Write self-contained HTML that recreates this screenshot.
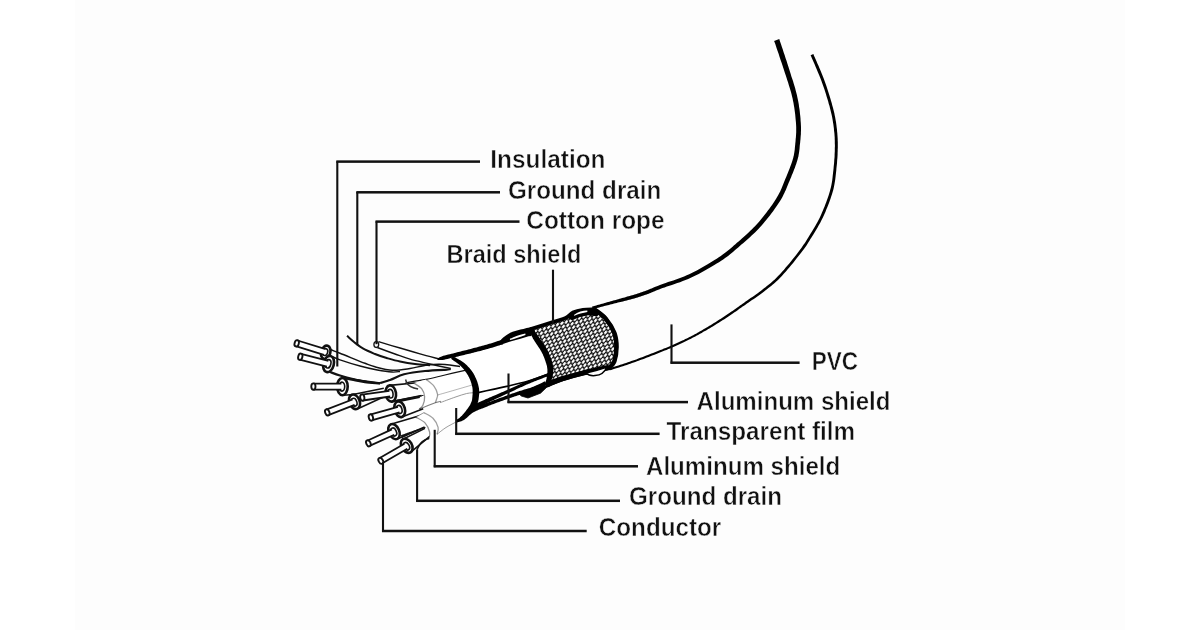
<!DOCTYPE html>
<html><head><meta charset="utf-8"><title>Cable structure</title>
<style>
html,body{margin:0;padding:0;background:#fff;}
body{width:1200px;height:630px;overflow:hidden;position:relative;font-family:"Liberation Sans",sans-serif;}
#bg{position:absolute;left:75px;top:0;width:1050px;height:630px;background:#fdfdfd;}
svg{position:absolute;left:0;top:0;will-change:transform;}
text{font-family:"Liberation Sans",sans-serif;font-weight:bold;font-size:26.6px;fill:#111;stroke:#fdfdfd;stroke-width:0.5px;}
</style></head><body>
<div id="bg"></div>
<svg width="1200" height="630" viewBox="0 0 1200 630">
<defs>
<pattern id="braid" width="4.6" height="7.2" patternUnits="userSpaceOnUse" patternTransform="rotate(-17) skewX(-28)">
<rect width="4.6" height="7.2" fill="#0a0a0a"/>
<path d="M2.3 -0.25 L4.35 1.8 L2.3 3.85 L0.25 1.8Z M0 3.35 L2.05 5.4 L0 7.45 L-2.05 5.4Z M4.6 3.35 L6.65 5.4 L4.6 7.45 L2.55 5.4Z" fill="#fff"/>
</pattern>
</defs>
<g id="wires">
<path d="M376.5 342.0 C382.1 343.6 399.4 348.7 410.0 351.5 C420.6 354.3 433.0 356.2 440.0 359.0 C447.0 361.8 457.0 368.4 452.0 368.5 C447.0 368.6 422.6 363.0 410.0 359.5 C397.4 356.0 382.1 349.5 376.5 347.5Z" fill="#fff" stroke="none"/>
<path d="M378.5 341.7 C382.1 342.8 393.1 346.0 400.0 348.0 C406.9 350.0 413.3 351.9 420.0 353.8 C426.7 355.7 436.7 358.3 440.0 359.2" fill="none" stroke="#111" stroke-width="1.4" />
<path d="M377.3 347.5 C380.2 348.6 389.6 352.1 395.0 354.0 C400.4 355.9 404.2 357.5 410.0 359.2 C415.8 360.9 423.2 362.4 430.0 364.0 C436.8 365.6 447.3 367.8 450.8 368.5" fill="none" stroke="#111" stroke-width="1.4" />
<ellipse cx="376.3" cy="344.6" rx="2.4" ry="2.9" fill="#fff" stroke="#111" stroke-width="1.3"/>
<path d="M347.0 335.8 C348.2 336.8 351.3 339.9 354.0 342.0 C356.7 344.1 359.8 346.7 363.3 348.7 C366.8 350.7 371.1 352.4 375.0 354.0 C378.9 355.6 382.5 356.8 386.7 358.0 C390.9 359.2 395.3 360.5 400.0 361.5 C404.7 362.5 410.0 363.4 415.0 364.0 C420.0 364.6 427.5 365.0 430.0 365.2" fill="none" stroke="#111" stroke-width="2.0" />
<path d="M329.7 349.3 C331.4 350.0 334.1 351.0 340.0 353.3 C345.9 355.6 359.2 361.1 365.0 363.3 C370.8 365.6 370.4 365.6 375.0 366.8 C379.6 368.0 386.7 370.0 392.5 370.3 C398.3 370.6 404.2 369.4 410.0 368.5 C415.8 367.6 421.7 365.7 427.5 365.0 C433.3 364.3 439.6 364.2 445.0 364.5 C450.4 364.8 457.5 366.2 460.0 366.5" fill="none" stroke="#111" stroke-width="1.5" />
<path d="M332.0 356.3 C333.3 356.9 335.3 358.2 340.0 359.8 C344.7 361.4 353.8 364.3 360.0 366.0 C366.2 367.7 372.0 369.0 377.3 370.0 C382.6 371.0 388.2 371.8 392.0 372.0 C395.8 372.2 398.7 371.6 400.0 371.5" fill="none" stroke="#111" stroke-width="1.3" />
<path d="M330.0 372.0 C331.7 372.6 335.8 374.2 340.0 375.5 C344.2 376.8 350.8 378.5 355.0 379.5 C359.2 380.5 361.3 380.8 365.0 381.5 C368.7 382.2 373.1 383.8 377.3 383.5 C381.5 383.2 385.6 381.5 390.0 380.0 C394.4 378.5 398.2 375.8 404.0 374.3 C409.8 372.8 417.2 371.8 425.0 371.0 C432.8 370.2 446.5 369.8 450.8 369.5" fill="none" stroke="#111" stroke-width="2.2" />
<ellipse cx="325.7" cy="352.3" rx="4.6" ry="6.8" transform="rotate(17.2 325.7 352.3)" fill="#fff" stroke="#111" stroke-width="2.6"/>
<ellipse cx="325.2" cy="352.2" rx="2.4" ry="3.5" transform="rotate(17.2 325.7 352.3)" fill="#fff" stroke="#111" stroke-width="1.6"/>
<path d="M295.8 346.1 L323.9 354.8 L325.6 349.2 L297.6 340.5 Z" fill="#fff" stroke="none"/>
<path d="M295.8 346.1 L323.9 354.8 M297.6 340.5 L325.6 349.2" fill="none" stroke="#111" stroke-width="1.8"/>
<ellipse cx="296.7" cy="343.3" rx="2.1" ry="3.2" transform="rotate(17.2 296.7 343.3)" fill="#fff" stroke="#111" stroke-width="1.9"/>
<ellipse cx="328.6" cy="364.0" rx="5.2" ry="8.3" transform="rotate(14.5 328.6 364.0)" fill="#fff" stroke="#111" stroke-width="2.6"/>
<ellipse cx="328.1" cy="363.9" rx="2.7" ry="4.3" transform="rotate(14.5 328.6 364.0)" fill="#fff" stroke="#111" stroke-width="1.6"/>
<path d="M299.6 359.6 L326.9 366.6 L328.4 360.9 L301.0 353.8 Z" fill="#fff" stroke="none"/>
<path d="M299.6 359.6 L326.9 366.6 M301.0 353.8 L328.4 360.9" fill="none" stroke="#111" stroke-width="1.8"/>
<ellipse cx="300.3" cy="356.7" rx="2.1" ry="3.2" transform="rotate(14.5 300.3 356.7)" fill="#fff" stroke="#111" stroke-width="1.9"/>
<path d="M342.4 395.2 L379.8 393.0 L380.2 383.0 L342.4 378.0 Z" fill="#fff" stroke="none"/>
<path d="M342.4 395.2 L379.8 393.0" fill="none" stroke="#111" stroke-width="1.6"/>
<path d="M342.4 378.0 L380.2 383.0" fill="none" stroke="#111" stroke-width="1.6"/>
<ellipse cx="342.4" cy="386.6" rx="5.3" ry="8.6" transform="rotate(0.0 342.4 386.6)" fill="#fff" stroke="#111" stroke-width="2.6"/>
<ellipse cx="341.9" cy="386.6" rx="2.8" ry="4.5" transform="rotate(0.0 342.4 386.6)" fill="#fff" stroke="#111" stroke-width="1.6"/>
<path d="M313.4 389.6 L341.4 389.6 L341.4 383.7 L313.4 383.7 Z" fill="#fff" stroke="none"/>
<path d="M313.4 389.6 L341.4 389.6 M313.4 383.7 L341.4 383.7" fill="none" stroke="#111" stroke-width="1.8"/>
<ellipse cx="313.4" cy="386.6" rx="2.1" ry="3.2" transform="rotate(0.0 313.4 386.6)" fill="#fff" stroke="#111" stroke-width="1.9"/>
<path d="M343.5 377.5 C344.9 377.8 348.4 378.8 352.0 379.5 C355.6 380.2 360.3 381.3 365.0 382.0 C369.7 382.7 377.5 383.2 380.0 383.5" fill="none" stroke="#111" stroke-width="2.4" />
<path d="M357.3 408.9 L386.2 395.8 L383.8 388.2 L351.7 394.7 Z" fill="#fff" stroke="none"/>
<path d="M357.3 408.9 L386.2 395.8" fill="none" stroke="#111" stroke-width="1.6"/>
<path d="M351.7 394.7 L383.8 388.2" fill="none" stroke="#111" stroke-width="1.6"/>
<ellipse cx="354.5" cy="401.8" rx="5.2" ry="7.6" transform="rotate(-21.3 354.5 401.8)" fill="#fff" stroke="#111" stroke-width="2.6"/>
<ellipse cx="354.0" cy="402.0" rx="2.7" ry="4.0" transform="rotate(-21.3 354.5 401.8)" fill="#fff" stroke="#111" stroke-width="1.6"/>
<path d="M328.4 415.1 L354.6 404.9 L352.5 399.5 L326.2 409.7 Z" fill="#fff" stroke="none"/>
<path d="M328.4 415.1 L354.6 404.9 M326.2 409.7 L352.5 399.5" fill="none" stroke="#111" stroke-width="1.8"/>
<ellipse cx="327.3" cy="412.4" rx="2.1" ry="3.2" transform="rotate(-21.3 327.3 412.4)" fill="#fff" stroke="#111" stroke-width="1.9"/>
<path d="M392.0 385.0 C397.5 383.7 415.0 379.5 425.0 377.0 C435.0 374.5 444.5 370.8 452.0 370.0 C459.5 369.2 466.0 368.3 470.0 372.0 C474.0 375.7 481.0 387.0 476.0 392.0 C471.0 397.0 448.0 399.3 440.0 402.0 C432.0 404.7 434.7 405.3 428.0 408.0 C421.3 410.7 404.7 416.3 400.0 418.0Z" fill="#fff" stroke="none"/>
<path d="M405.6 382.9 C407.2 382.6 411.6 381.8 415.0 381.2 C418.4 380.6 421.1 380.4 426.1 379.4 C431.1 378.4 438.5 376.5 445.0 375.0 C451.5 373.5 461.7 371.1 465.0 370.3" fill="none" stroke="#111" stroke-width="1.2" />
<path d="M392.0 401.6 L421.5 395.5 L419.5 382.5 L389.6 385.4 Z" fill="#fff" stroke="none"/>
<path d="M392.0 401.6 L421.5 395.5" fill="none" stroke="#111" stroke-width="1.6"/>
<path d="M389.6 385.4 L419.5 382.5" fill="none" stroke="#111" stroke-width="1.6"/>
<ellipse cx="390.8" cy="393.5" rx="5.2" ry="8.2" transform="rotate(-8.2 390.8 393.5)" fill="#fff" stroke="#111" stroke-width="2.6"/>
<ellipse cx="390.3" cy="393.6" rx="2.7" ry="4.3" transform="rotate(-8.2 390.8 393.5)" fill="#fff" stroke="#111" stroke-width="1.6"/>
<path d="M362.7 400.5 L390.2 396.5 L389.4 390.8 L361.9 394.7 Z" fill="#fff" stroke="none"/>
<path d="M362.7 400.5 L390.2 396.5 M361.9 394.7 L389.4 390.8" fill="none" stroke="#111" stroke-width="1.8"/>
<ellipse cx="362.3" cy="397.6" rx="2.1" ry="3.2" transform="rotate(-8.2 362.3 397.6)" fill="#fff" stroke="#111" stroke-width="1.9"/>
<path d="M401.9 417.0 L423.2 408.8 L419.8 397.2 L397.5 401.6 Z" fill="#fff" stroke="none"/>
<path d="M401.9 417.0 L423.2 408.8" fill="none" stroke="#111" stroke-width="1.6"/>
<path d="M397.5 401.6 L419.8 397.2" fill="none" stroke="#111" stroke-width="1.6"/>
<ellipse cx="399.7" cy="409.3" rx="5.2" ry="8.0" transform="rotate(-15.9 399.7 409.3)" fill="#fff" stroke="#111" stroke-width="2.6"/>
<ellipse cx="399.2" cy="409.4" rx="2.7" ry="4.2" transform="rotate(-15.9 399.7 409.3)" fill="#fff" stroke="#111" stroke-width="1.6"/>
<path d="M371.7 420.3 L399.5 412.4 L397.9 406.8 L370.1 414.7 Z" fill="#fff" stroke="none"/>
<path d="M371.7 420.3 L399.5 412.4 M370.1 414.7 L397.9 406.8" fill="none" stroke="#111" stroke-width="1.8"/>
<ellipse cx="370.9" cy="417.5" rx="2.1" ry="3.2" transform="rotate(-15.9 370.9 417.5)" fill="#fff" stroke="#111" stroke-width="1.9"/>
<path d="M397.3 402.3 L397.9 402.1 L398.7 401.9 L399.6 401.7 L400.6 401.4 L401.7 401.2 L402.9 400.9 L404.1 400.6 L405.4 400.2 L406.6 399.9 L407.9 399.6 L409.0 399.3 L410.2 399.0 L411.3 398.8 L412.5 398.5 L413.8 398.2 L415.1 397.8 L416.4 397.5 L417.7 397.2 L418.9 396.9 L420.1 396.6 L421.2 396.4 L422.1 396.1 L422.9 395.9 L423.6 395.8 L423.4 395.0 L422.8 395.1 L421.9 395.3 L421.0 395.4 L419.9 395.6 L418.7 395.8 L417.4 396.0 L416.1 396.3 L414.8 396.5 L413.5 396.7 L412.2 396.9 L411.0 397.2 L409.8 397.4 L408.7 397.6 L407.5 397.8 L406.2 398.0 L404.9 398.2 L403.7 398.5 L402.4 398.7 L401.2 398.9 L400.1 399.1 L399.1 399.3 L398.1 399.5 L397.4 399.6 L396.7 399.7Z" fill="#111"/>
<path d="M413.6 382.9 C414.9 383.8 419.8 386.3 421.6 388.6 C423.4 390.9 424.4 393.8 424.6 396.6 C424.8 399.4 423.8 403.1 422.9 405.2 C422.0 407.3 419.9 408.5 419.3 409.1 L435.3 402.6 C435.5 402.2 435.9 401.4 436.3 400.0 C436.7 398.6 438.0 396.6 437.6 394.3 C437.2 392.0 436.0 388.8 434.1 386.3 C432.2 383.8 427.4 380.5 426.1 379.4 Z" fill="#fff" stroke="none"/>
<path d="M413.6 382.9 C414.9 383.8 419.8 386.3 421.6 388.6 C423.4 390.9 424.4 393.8 424.6 396.6 C424.8 399.4 423.8 403.1 422.9 405.2 C422.0 407.3 419.9 408.5 419.3 409.1" fill="none" stroke="#111" stroke-width="1.3" stroke-opacity="0.45"/>
<path d="M426.1 379.4 C427.4 380.5 432.2 383.8 434.1 386.3 C436.0 388.8 437.2 392.0 437.6 394.3 C438.0 396.6 436.7 398.6 436.3 400.0 C435.9 401.4 435.5 402.2 435.3 402.6" fill="none" stroke="#111" stroke-width="1.3" stroke-opacity="0.4"/>
<path d="M405.6 379.6 L406.7 382.9 C408 385.5 412 388 418.1 389.1" fill="none" stroke="#333" stroke-width="1.5"/>
<path d="M419.3 409.1 C420.8 408.5 425.3 406.6 428.0 405.5 C430.7 404.4 433.1 403.5 435.3 402.8 C437.5 402.1 440.1 401.5 441.0 401.2" fill="none" stroke="#111" stroke-width="1.1" stroke-opacity="0.55"/>
<path d="M437.5 395.0 C440.4 394.2 448.9 391.8 455.0 390.0 C461.1 388.2 470.8 385.4 474.0 384.5" fill="none" stroke="#111" stroke-width="0.9" stroke-opacity="0.35"/>
<path d="M395.0 423.0 C399.8 421.1 416.3 415.0 424.0 411.5 C431.7 408.0 433.3 404.9 441.0 401.8 C448.7 398.7 464.2 393.3 470.0 393.0 C475.8 392.7 476.7 396.5 476.0 400.0 C475.3 403.5 472.0 409.0 466.0 414.0 C460.0 419.0 446.0 425.7 440.0 430.0 C434.0 434.3 435.8 435.8 430.0 440.0 C424.2 444.2 409.2 452.5 405.0 455.0Z" fill="#fff" stroke="none"/>
<path d="M397.3 438.9 L424.6 427.1 L420.4 415.5 L390.7 424.3 Z" fill="#fff" stroke="none"/>
<path d="M397.3 438.9 L424.6 427.1" fill="none" stroke="#111" stroke-width="1.6"/>
<path d="M390.7 424.3 L420.4 415.5" fill="none" stroke="#111" stroke-width="1.6"/>
<ellipse cx="394.0" cy="431.6" rx="5.2" ry="8.0" transform="rotate(-24.6 394.0 431.6)" fill="#fff" stroke="#111" stroke-width="2.6"/>
<ellipse cx="393.5" cy="431.8" rx="2.7" ry="4.2" transform="rotate(-24.6 394.0 431.6)" fill="#fff" stroke="#111" stroke-width="1.6"/>
<path d="M369.6 445.9 L394.3 434.7 L391.9 429.4 L367.2 440.7 Z" fill="#fff" stroke="none"/>
<path d="M369.6 445.9 L394.3 434.7 M367.2 440.7 L391.9 429.4" fill="none" stroke="#111" stroke-width="1.8"/>
<ellipse cx="368.4" cy="443.3" rx="2.1" ry="3.2" transform="rotate(-24.6 368.4 443.3)" fill="#fff" stroke="#111" stroke-width="1.9"/>
<path d="M410.5 452.4 L430.0 436.2 L425.0 428.4 L402.9 439.2 Z" fill="#fff" stroke="none"/>
<path d="M410.5 452.4 L430.0 436.2" fill="none" stroke="#111" stroke-width="1.6"/>
<path d="M402.9 439.2 L425.0 428.4" fill="none" stroke="#111" stroke-width="1.6"/>
<ellipse cx="406.7" cy="445.8" rx="5.2" ry="7.6" transform="rotate(-30.1 406.7 445.8)" fill="#fff" stroke="#111" stroke-width="2.6"/>
<ellipse cx="406.3" cy="446.1" rx="2.7" ry="4.0" transform="rotate(-30.1 406.7 445.8)" fill="#fff" stroke="#111" stroke-width="1.6"/>
<path d="M382.3 463.3 L407.3 448.8 L404.4 443.8 L379.3 458.3 Z" fill="#fff" stroke="none"/>
<path d="M382.3 463.3 L407.3 448.8 M379.3 458.3 L404.4 443.8" fill="none" stroke="#111" stroke-width="1.8"/>
<ellipse cx="380.8" cy="460.8" rx="2.1" ry="3.2" transform="rotate(-30.1 380.8 460.8)" fill="#fff" stroke="#111" stroke-width="1.9"/>
<path d="M402.1 438.0 L402.6 437.8 L403.2 437.5 L403.9 437.1 L404.6 436.8 L405.5 436.4 L406.4 436.0 L407.4 435.5 L408.3 435.1 L409.4 434.6 L410.4 434.1 L411.4 433.7 L412.4 433.2 L413.4 432.8 L414.6 432.3 L415.8 431.8 L417.1 431.2 L418.4 430.7 L419.6 430.2 L420.9 429.6 L422.1 429.2 L423.2 428.7 L424.2 428.3 L425.0 427.9 L425.6 427.7 L425.4 426.9 L424.7 427.1 L423.8 427.4 L422.8 427.7 L421.7 428.1 L420.5 428.5 L419.2 428.9 L417.8 429.3 L416.5 429.8 L415.2 430.2 L413.9 430.6 L412.7 431.0 L411.6 431.4 L410.6 431.7 L409.5 432.1 L408.5 432.5 L407.4 432.8 L406.4 433.2 L405.4 433.6 L404.5 433.9 L403.6 434.2 L402.8 434.5 L402.0 434.8 L401.4 435.0 L400.9 435.2Z" fill="#111"/>
<path d="M415.9 417.1 C417.4 418.1 422.7 420.4 425.0 422.9 C427.3 425.4 428.9 429.3 429.6 432.0 C430.3 434.7 429.1 437.8 429.0 438.9 L437.0 434.3 C437.2 433.1 438.8 430.1 438.1 427.4 C437.4 424.7 435.4 420.8 433.0 418.3 C430.6 415.8 425.4 413.6 423.9 412.6 Z" fill="#fff" stroke="none"/>
<path d="M415.9 417.1 C417.4 418.1 422.7 420.4 425.0 422.9 C427.3 425.4 428.9 429.3 429.6 432.0 C430.3 434.7 429.1 437.8 429.0 438.9" fill="none" stroke="#111" stroke-width="1.3" stroke-opacity="0.45"/>
<path d="M423.9 412.6 C425.4 413.6 430.6 415.8 433.0 418.3 C435.4 420.8 437.4 424.7 438.1 427.4 C438.8 430.1 437.2 433.1 437.0 434.3" fill="none" stroke="#111" stroke-width="1.3" stroke-opacity="0.4"/>
<path d="M415.9 417.1 C417.2 416.4 422.6 413.4 423.9 412.6" fill="none" stroke="#111" stroke-width="1.0" stroke-opacity="0.45"/>
<path d="M437.0 434.3 C438.5 433.2 442.7 429.6 446.0 427.5 C449.3 425.4 455.2 422.5 457.0 421.5" fill="none" stroke="#111" stroke-width="1.0" stroke-opacity="0.4"/>
<path d="M417.0 449.5 C417.6 448.5 419.2 445.1 420.5 443.5 C421.8 441.9 423.6 440.8 425.0 440.0 C426.4 439.2 428.3 438.8 429.0 438.5" fill="none" stroke="#111" stroke-width="1.5" />
</g>
<g id="cable">
<path d="M774.1 40.9 L774.6 42.3 L775.3 44.1 L776.0 46.3 L776.8 48.7 L777.7 51.3 L778.7 54.1 L779.6 57.0 L780.6 59.9 L781.6 62.8 L782.5 65.6 L783.4 68.3 L784.2 70.8 L785.0 73.2 L785.8 75.6 L786.6 78.0 L787.3 80.3 L788.1 82.6 L788.8 84.9 L789.5 87.2 L790.2 89.5 L790.9 91.8 L791.5 94.0 L792.0 96.3 L792.6 98.5 L793.0 100.8 L793.5 103.1 L793.9 105.4 L794.3 107.7 L794.6 110.0 L794.9 112.3 L795.2 114.6 L795.4 116.8 L795.6 119.0 L795.8 121.1 L796.0 123.2 L796.1 125.1 L796.2 127.0 L796.2 128.8 L796.2 130.6 L796.2 132.3 L796.1 134.0 L796.0 135.6 L795.9 137.2 L795.7 138.7 L795.6 140.3 L795.5 141.8 L795.3 143.3 L795.2 144.8 L795.0 146.2 L794.9 147.5 L794.8 148.7 L794.7 149.9 L794.5 151.0 L794.4 152.1 L794.2 153.1 L794.0 154.2 L793.8 155.4 L793.5 156.6 L793.2 157.9 L792.8 159.3 L792.3 160.9 L791.8 162.5 L791.2 164.3 L790.5 166.1 L789.8 167.9 L789.1 169.8 L788.3 171.7 L787.6 173.6 L786.8 175.5 L786.1 177.3 L785.3 179.1 L784.6 180.8 L783.9 182.5 L783.3 184.0 L782.7 185.5 L782.1 187.0 L781.5 188.4 L780.9 189.8 L780.3 191.2 L779.6 192.6 L778.8 194.0 L778.0 195.6 L777.1 197.1 L776.1 198.8 L775.0 200.6 L773.7 202.5 L772.4 204.4 L770.9 206.5 L769.5 208.5 L767.9 210.6 L766.3 212.7 L764.7 214.8 L763.1 216.8 L761.5 218.8 L759.9 220.7 L758.4 222.5 L756.8 224.3 L755.2 226.0 L753.6 227.6 L752.0 229.3 L750.3 230.8 L748.6 232.4 L747.0 233.9 L745.3 235.5 L743.6 237.0 L741.9 238.4 L740.3 239.9 L738.6 241.4 L736.9 242.8 L735.4 244.2 L733.8 245.6 L732.3 246.9 L730.8 248.2 L729.3 249.5 L727.7 250.8 L726.1 252.0 L724.4 253.3 L722.7 254.6 L720.8 255.9 L718.8 257.3 L716.7 258.7 L714.5 260.1 L712.1 261.6 L709.7 263.0 L707.2 264.5 L704.6 266.0 L702.0 267.5 L699.4 269.0 L696.8 270.4 L694.2 271.7 L691.7 273.0 L689.2 274.2 L686.7 275.3 L684.1 276.4 L681.4 277.5 L678.7 278.5 L676.0 279.5 L673.3 280.4 L670.7 281.3 L668.1 282.1 L665.7 283.0 L663.4 283.8 L661.3 284.5 L659.3 285.2 L657.6 285.9 L656.1 286.5 L654.8 287.0 L653.6 287.5 L652.6 288.0 L651.6 288.4 L650.7 288.8 L649.9 289.1 L649.1 289.5 L648.2 289.8 L647.3 290.2 L646.3 290.6 L645.3 290.9 L644.4 291.3 L643.4 291.6 L642.4 292.0 L641.5 292.3 L640.5 292.6 L639.6 292.9 L638.6 293.3 L637.6 293.6 L636.6 293.9 L635.6 294.2 L634.5 294.6 L633.3 294.9 L632.2 295.2 L631.0 295.6 L629.7 295.9 L628.5 296.3 L627.2 296.6 L626.0 297.0 L624.7 297.4 L623.4 297.7 L622.1 298.1 L620.8 298.4 L619.6 298.8 L618.3 299.2 L617.1 299.5 L615.8 299.9 L614.5 300.2 L613.2 300.6 L612.0 300.9 L610.7 301.3 L609.4 301.7 L608.2 302.0 L607.0 302.3 L605.8 302.7 L604.6 303.0 L603.4 303.4 L602.2 303.7 L601.0 304.1 L599.8 304.4 L598.5 304.8 L597.4 305.1 L596.2 305.4 L595.2 305.7 L594.2 306.0 L593.3 306.3 L592.6 306.5 L592.0 306.6 L592.6 309.2 L593.3 309.0 L594.0 308.8 L594.9 308.6 L595.9 308.3 L596.9 308.0 L598.1 307.7 L599.3 307.4 L600.5 307.1 L601.7 306.7 L603.0 306.4 L604.2 306.1 L605.4 305.8 L606.5 305.5 L607.7 305.2 L609.0 304.9 L610.2 304.6 L611.5 304.2 L612.8 303.9 L614.0 303.6 L615.3 303.3 L616.6 303.0 L617.9 302.6 L619.2 302.3 L620.4 302.0 L621.7 301.7 L623.0 301.4 L624.3 301.0 L625.6 300.7 L626.9 300.4 L628.1 300.1 L629.4 299.7 L630.7 299.4 L631.9 299.1 L633.2 298.7 L634.4 298.4 L635.5 298.0 L636.6 297.7 L637.7 297.4 L638.7 297.1 L639.7 296.8 L640.7 296.4 L641.7 296.1 L642.7 295.8 L643.6 295.5 L644.6 295.1 L645.6 294.8 L646.6 294.4 L647.7 294.0 L648.7 293.7 L649.6 293.3 L650.5 292.9 L651.4 292.6 L652.2 292.2 L653.1 291.8 L654.1 291.4 L655.1 291.0 L656.2 290.5 L657.5 290.0 L659.0 289.4 L660.7 288.8 L662.5 288.1 L664.6 287.4 L666.9 286.6 L669.4 285.8 L671.9 285.0 L674.6 284.1 L677.3 283.1 L680.0 282.2 L682.8 281.1 L685.5 280.1 L688.2 279.0 L690.8 277.8 L693.4 276.6 L696.0 275.3 L698.7 273.9 L701.3 272.5 L704.0 271.1 L706.6 269.6 L709.2 268.1 L711.8 266.6 L714.3 265.1 L716.7 263.6 L719.0 262.2 L721.2 260.7 L723.2 259.4 L725.1 258.0 L727.0 256.7 L728.7 255.4 L730.4 254.1 L732.0 252.8 L733.5 251.5 L735.1 250.1 L736.6 248.8 L738.2 247.4 L739.8 246.0 L741.4 244.6 L743.1 243.2 L744.8 241.7 L746.5 240.2 L748.2 238.7 L749.9 237.2 L751.6 235.6 L753.3 234.0 L755.0 232.4 L756.7 230.7 L758.4 229.0 L760.0 227.3 L761.6 225.5 L763.3 223.6 L764.9 221.6 L766.6 219.6 L768.2 217.5 L769.9 215.4 L771.5 213.3 L773.1 211.2 L774.6 209.1 L776.0 207.0 L777.4 205.0 L778.7 203.0 L779.9 201.2 L781.0 199.4 L782.0 197.8 L782.8 196.2 L783.6 194.6 L784.4 193.1 L785.0 191.6 L785.7 190.2 L786.3 188.7 L786.9 187.2 L787.5 185.7 L788.1 184.2 L788.8 182.6 L789.5 180.9 L790.3 179.1 L791.1 177.2 L791.8 175.3 L792.6 173.4 L793.4 171.5 L794.1 169.6 L794.9 167.7 L795.5 165.8 L796.2 164.0 L796.7 162.3 L797.2 160.7 L797.7 159.1 L798.0 157.7 L798.4 156.4 L798.6 155.1 L798.8 153.9 L799.0 152.7 L799.2 151.6 L799.3 150.4 L799.5 149.2 L799.6 147.9 L799.7 146.6 L799.8 145.2 L800.0 143.8 L800.2 142.3 L800.3 140.8 L800.5 139.2 L800.6 137.6 L800.7 135.9 L800.9 134.2 L800.9 132.5 L801.0 130.6 L801.0 128.8 L801.0 126.9 L800.9 124.9 L800.8 122.8 L800.6 120.7 L800.5 118.6 L800.3 116.3 L800.0 114.0 L799.8 111.7 L799.5 109.3 L799.1 107.0 L798.8 104.6 L798.4 102.2 L797.9 99.8 L797.4 97.5 L796.9 95.1 L796.3 92.8 L795.7 90.5 L795.1 88.1 L794.4 85.8 L793.7 83.4 L793.0 81.1 L792.2 78.7 L791.4 76.4 L790.7 74.0 L789.9 71.6 L789.2 69.2 L788.4 66.7 L787.5 64.0 L786.6 61.1 L785.6 58.2 L784.7 55.3 L783.7 52.4 L782.8 49.6 L781.9 47.0 L781.1 44.6 L780.4 42.4 L779.7 40.6 L779.3 39.1Z" fill="#000"/>
<path d="M810.6 55.3 L811.2 56.6 L811.9 58.2 L812.7 60.1 L813.7 62.3 L814.7 64.6 L815.7 67.0 L816.8 69.6 L817.9 72.2 L819.0 74.8 L820.1 77.4 L821.0 79.8 L821.9 82.2 L822.7 84.5 L823.6 86.9 L824.4 89.3 L825.2 91.8 L826.0 94.3 L826.7 96.7 L827.5 99.2 L828.2 101.5 L828.8 103.9 L829.5 106.1 L830.0 108.3 L830.6 110.4 L831.0 112.3 L831.5 114.2 L831.9 115.9 L832.2 117.6 L832.5 119.3 L832.8 120.9 L833.0 122.5 L833.3 124.0 L833.5 125.5 L833.7 127.1 L833.9 128.6 L834.0 130.2 L834.2 131.7 L834.4 133.2 L834.5 134.7 L834.6 136.2 L834.7 137.6 L834.7 139.0 L834.8 140.5 L834.8 141.9 L834.8 143.4 L834.9 144.9 L834.9 146.4 L834.8 148.0 L834.8 149.6 L834.8 151.2 L834.7 152.8 L834.6 154.5 L834.6 156.1 L834.5 157.8 L834.3 159.5 L834.2 161.2 L834.1 162.9 L833.9 164.7 L833.7 166.4 L833.6 168.1 L833.4 169.9 L833.2 171.6 L833.0 173.4 L832.8 175.1 L832.6 176.9 L832.4 178.7 L832.2 180.4 L831.9 182.2 L831.6 184.0 L831.2 185.9 L830.8 187.7 L830.3 189.6 L829.8 191.6 L829.2 193.6 L828.5 195.7 L827.8 197.8 L827.0 200.0 L826.2 202.2 L825.4 204.3 L824.6 206.5 L823.7 208.6 L822.9 210.6 L822.0 212.6 L821.2 214.4 L820.4 216.2 L819.6 217.9 L818.8 219.6 L817.9 221.2 L817.1 222.7 L816.2 224.3 L815.4 225.8 L814.5 227.3 L813.6 228.8 L812.7 230.2 L811.8 231.8 L810.8 233.3 L809.9 234.8 L809.0 236.3 L808.1 237.7 L807.3 239.1 L806.4 240.5 L805.5 242.0 L804.5 243.4 L803.5 244.8 L802.5 246.3 L801.4 247.9 L800.2 249.5 L798.9 251.2 L797.6 253.0 L796.1 254.9 L794.5 257.0 L792.8 259.1 L791.1 261.2 L789.3 263.4 L787.5 265.5 L785.7 267.6 L784.0 269.7 L782.3 271.6 L780.6 273.4 L779.1 275.1 L777.6 276.6 L776.2 278.1 L774.8 279.4 L773.5 280.6 L772.1 281.8 L770.8 282.9 L769.5 284.0 L768.2 285.1 L766.9 286.1 L765.5 287.2 L764.0 288.3 L762.5 289.5 L761.0 290.7 L759.3 291.9 L757.7 293.2 L755.9 294.4 L754.2 295.7 L752.4 296.9 L750.6 298.1 L748.9 299.3 L747.2 300.5 L745.6 301.6 L744.1 302.7 L742.6 303.7 L741.3 304.7 L740.0 305.6 L738.8 306.4 L737.7 307.2 L736.6 308.0 L735.6 308.7 L734.5 309.5 L733.5 310.2 L732.5 310.9 L731.5 311.6 L730.4 312.3 L729.4 313.0 L728.2 313.8 L727.1 314.5 L726.0 315.3 L724.9 316.0 L723.8 316.8 L722.7 317.5 L721.6 318.2 L720.5 318.9 L719.4 319.6 L718.3 320.3 L717.2 321.1 L716.1 321.8 L715.0 322.4 L713.9 323.1 L712.8 323.8 L711.7 324.5 L710.6 325.2 L709.4 325.8 L708.3 326.5 L707.2 327.2 L706.1 327.8 L705.0 328.5 L703.9 329.1 L702.8 329.8 L701.7 330.4 L700.6 331.0 L699.6 331.6 L698.5 332.2 L697.5 332.8 L696.5 333.4 L695.4 334.0 L694.3 334.6 L693.2 335.2 L692.0 335.8 L690.8 336.4 L689.5 337.1 L688.2 337.7 L686.8 338.4 L685.3 339.1 L683.8 339.9 L682.3 340.6 L680.7 341.3 L679.1 342.1 L677.5 342.8 L675.9 343.5 L674.2 344.3 L672.5 345.0 L670.9 345.7 L669.2 346.5 L667.5 347.2 L665.7 347.9 L663.9 348.6 L662.1 349.4 L660.3 350.1 L658.5 350.8 L656.7 351.5 L654.9 352.3 L653.1 353.0 L651.4 353.6 L649.6 354.3 L647.9 355.0 L646.2 355.6 L644.5 356.3 L642.9 356.9 L641.2 357.5 L639.6 358.1 L637.9 358.7 L636.3 359.4 L634.6 359.9 L633.0 360.5 L631.3 361.1 L629.7 361.7 L627.9 362.3 L626.1 362.9 L624.2 363.6 L622.3 364.2 L620.3 364.8 L618.4 365.5 L616.6 366.1 L614.9 366.6 L613.3 367.1 L611.9 367.6 L610.6 368.0 L609.7 368.3 L610.3 370.3 L611.3 370.0 L612.5 369.6 L613.9 369.1 L615.5 368.6 L617.2 368.1 L619.1 367.5 L621.0 366.8 L622.9 366.2 L624.9 365.6 L626.8 364.9 L628.6 364.3 L630.3 363.7 L632.0 363.1 L633.7 362.5 L635.3 361.9 L637.0 361.3 L638.6 360.7 L640.3 360.1 L641.9 359.5 L643.6 358.9 L645.3 358.2 L647.0 357.6 L648.7 356.9 L650.4 356.3 L652.1 355.6 L653.9 354.9 L655.7 354.2 L657.5 353.5 L659.3 352.8 L661.1 352.1 L662.9 351.3 L664.7 350.6 L666.5 349.9 L668.3 349.1 L670.0 348.4 L671.7 347.7 L673.4 346.9 L675.1 346.2 L676.7 345.5 L678.4 344.7 L680.0 344.0 L681.6 343.2 L683.2 342.5 L684.7 341.7 L686.2 341.0 L687.7 340.3 L689.1 339.6 L690.5 338.9 L691.8 338.3 L693.0 337.6 L694.2 337.0 L695.3 336.4 L696.4 335.8 L697.5 335.2 L698.5 334.7 L699.6 334.1 L700.6 333.5 L701.7 332.9 L702.7 332.3 L703.8 331.6 L705.0 331.0 L706.1 330.4 L707.2 329.7 L708.3 329.1 L709.4 328.4 L710.6 327.7 L711.7 327.1 L712.8 326.4 L713.9 325.7 L715.1 325.0 L716.2 324.3 L717.3 323.6 L718.4 322.9 L719.5 322.2 L720.6 321.5 L721.8 320.8 L722.9 320.1 L724.0 319.4 L725.1 318.7 L726.2 317.9 L727.3 317.2 L728.4 316.4 L729.5 315.7 L730.6 315.0 L731.7 314.2 L732.8 313.5 L733.8 312.8 L734.9 312.1 L735.9 311.4 L736.9 310.7 L738.0 309.9 L739.0 309.1 L740.2 308.3 L741.4 307.5 L742.6 306.6 L744.0 305.7 L745.4 304.7 L747.0 303.6 L748.6 302.5 L750.3 301.3 L752.0 300.1 L753.8 298.9 L755.6 297.7 L757.3 296.4 L759.1 295.2 L760.8 293.9 L762.5 292.7 L764.1 291.5 L765.6 290.3 L767.0 289.2 L768.4 288.1 L769.8 287.0 L771.1 285.9 L772.5 284.8 L773.8 283.7 L775.2 282.5 L776.5 281.2 L778.0 279.9 L779.4 278.4 L780.9 276.9 L782.5 275.2 L784.2 273.3 L785.9 271.4 L787.7 269.3 L789.5 267.2 L791.3 265.1 L793.1 262.9 L794.8 260.7 L796.5 258.6 L798.1 256.6 L799.7 254.6 L801.1 252.8 L802.4 251.1 L803.6 249.4 L804.7 247.9 L805.8 246.4 L806.8 244.9 L807.7 243.4 L808.6 242.0 L809.6 240.6 L810.4 239.1 L811.3 237.7 L812.2 236.2 L813.2 234.7 L814.1 233.2 L815.0 231.7 L815.9 230.2 L816.8 228.7 L817.7 227.2 L818.6 225.6 L819.5 224.1 L820.4 222.5 L821.2 220.8 L822.1 219.1 L822.9 217.4 L823.8 215.6 L824.6 213.7 L825.5 211.7 L826.3 209.6 L827.2 207.5 L828.0 205.4 L828.9 203.2 L829.7 201.0 L830.5 198.8 L831.2 196.6 L831.9 194.5 L832.5 192.4 L833.1 190.4 L833.6 188.4 L834.0 186.5 L834.4 184.6 L834.7 182.7 L835.0 180.9 L835.3 179.0 L835.5 177.2 L835.7 175.5 L835.9 173.7 L836.1 171.9 L836.3 170.2 L836.4 168.5 L836.6 166.7 L836.8 164.9 L837.0 163.2 L837.1 161.5 L837.2 159.7 L837.4 158.0 L837.5 156.3 L837.6 154.6 L837.6 152.9 L837.7 151.3 L837.7 149.6 L837.8 148.0 L837.8 146.4 L837.8 144.9 L837.8 143.4 L837.8 141.9 L837.7 140.4 L837.7 138.9 L837.6 137.4 L837.5 136.0 L837.4 134.5 L837.3 133.0 L837.1 131.4 L837.0 129.8 L836.8 128.3 L836.6 126.7 L836.4 125.1 L836.2 123.6 L836.0 122.0 L835.7 120.4 L835.4 118.8 L835.1 117.1 L834.7 115.3 L834.4 113.5 L833.9 111.6 L833.4 109.6 L832.9 107.6 L832.3 105.4 L831.7 103.1 L831.0 100.7 L830.3 98.3 L829.6 95.9 L828.8 93.4 L828.0 90.9 L827.2 88.4 L826.4 86.0 L825.5 83.5 L824.7 81.2 L823.8 78.8 L822.8 76.3 L821.8 73.7 L820.7 71.0 L819.6 68.4 L818.5 65.8 L817.4 63.4 L816.4 61.1 L815.5 58.9 L814.6 57.0 L813.9 55.4 L813.4 54.1Z" fill="#000"/>
<path d="M452.0 357.5 C453.8 358.8 459.8 362.1 463.0 365.0 C466.2 367.9 468.9 371.3 471.0 375.0 C473.1 378.7 474.8 383.2 475.5 387.0 C476.2 390.8 475.8 395.0 475.5 398.0 C475.2 401.0 474.6 402.7 473.5 405.0 C472.4 407.3 470.6 409.8 468.7 412.0 C466.8 414.2 463.1 417.4 462.0 418.5 L503.3 397.5 L552 381 L556 360 L540 326 L501.7 341.7 L470 350 Z" fill="#fff" stroke="none"/>
<path d="M437.7 360.0 L438.6 360.0 L439.7 360.0 L441.1 360.0 L442.6 360.0 L444.2 359.7 L445.8 359.3 L447.5 358.9 L449.2 358.5 L450.9 358.1 L452.5 357.7 L454.1 357.3 L455.5 357.0 L456.8 356.7 L458.1 356.4 L459.4 356.1 L460.6 355.8 L461.8 355.5 L463.0 355.2 L464.2 354.9 L465.5 354.6 L466.7 354.3 L467.9 354.0 L469.2 353.7 L470.5 353.4 L471.9 353.0 L473.3 352.7 L474.7 352.3 L476.1 352.0 L477.6 351.6 L479.0 351.2 L480.5 350.9 L481.9 350.5 L483.4 350.1 L484.8 349.7 L486.2 349.3 L487.6 348.9 L489.0 348.5 L490.5 348.1 L492.0 347.7 L493.5 347.2 L495.0 346.7 L496.5 346.3 L497.9 345.8 L499.2 345.4 L500.4 345.0 L501.5 344.7 L502.4 344.4 L503.2 344.2 L501.8 339.8 L501.1 340.0 L500.1 340.3 L499.1 340.7 L497.8 341.1 L496.5 341.5 L495.1 342.0 L493.7 342.4 L492.2 342.9 L490.7 343.4 L489.2 343.8 L487.8 344.3 L486.4 344.7 L485.0 345.1 L483.6 345.4 L482.2 345.8 L480.8 346.2 L479.4 346.6 L477.9 347.0 L476.5 347.4 L475.0 347.8 L473.6 348.1 L472.2 348.5 L470.8 348.9 L469.5 349.2 L468.2 349.6 L466.9 349.9 L465.7 350.2 L464.4 350.5 L463.2 350.8 L462.0 351.1 L460.8 351.4 L459.6 351.7 L458.4 352.0 L457.1 352.3 L455.8 352.7 L454.5 353.0 L453.1 353.4 L451.5 353.7 L449.9 354.2 L448.2 354.6 L446.5 355.0 L444.8 355.4 L443.2 355.8 L441.7 356.4 L440.3 357.0 L439.1 357.6 L438.1 358.2 L437.3 358.6Z" fill="#000"/>
<path d="M500.5 340.5 C500.9 340.0 501.6 338.9 503.2 337.6 C504.8 336.3 507.4 334.0 510.3 332.7 C513.2 331.4 517.0 330.6 520.5 329.6 C524.0 328.6 529.7 327.3 531.5 326.9 L531.5 336 L528.6 336.3 L520.5 338.8 L510.3 341.6 L501.5 344.4 Z" fill="#000"/>
<path d="M509.8 339 C514 336.6 520 334.6 525.3 333.5 L525.5 334.9 C520 336.8 515 338.6 510.2 340 Z" fill="#fff"/>
<path d="M440.0 402.7 C442.5 401.8 450.6 398.7 455.0 397.2 C459.4 395.7 463.2 394.3 466.7 393.5 C470.2 392.7 474.4 392.8 476.0 392.6" fill="none" stroke="#999" stroke-width="1"/>
<path d="M477.0 392.8 C479.7 392.2 488.1 390.4 493.0 389.3 C497.9 388.2 501.1 387.6 506.7 386.3 C512.3 385.0 520.6 383.3 526.7 381.5 C532.8 379.7 539.8 377.0 543.5 375.7 C547.2 374.4 548.1 374.0 549.0 373.6" fill="none" stroke="#000" stroke-width="1.7"/>
<path d="M475.9 408.5 L476.8 408.1 L478.0 407.5 L479.3 406.9 L480.8 406.2 L482.5 405.4 L484.2 404.5 L486.0 403.6 L487.7 402.8 L489.5 401.9 L491.1 401.1 L492.7 400.4 L494.1 399.7 L495.4 399.1 L496.6 398.5 L497.7 398.0 L498.9 397.5 L500.0 397.0 L501.0 396.5 L502.1 396.0 L503.1 395.5 L504.2 395.0 L505.2 394.6 L506.3 394.1 L507.4 393.6 L508.5 393.0 L509.6 392.5 L510.8 392.0 L511.9 391.4 L513.0 390.9 L514.1 390.4 L515.2 389.9 L516.3 389.3 L517.4 388.8 L518.5 388.3 L519.6 387.8 L520.6 387.3 L521.7 386.9 L522.7 386.4 L523.7 386.0 L524.7 385.5 L525.7 385.1 L526.7 384.6 L527.7 384.2 L528.6 383.8 L529.6 383.4 L530.6 383.0 L531.6 382.6 L532.5 382.2 L533.6 381.7 L534.6 381.3 L535.7 380.9 L536.8 380.5 L537.8 380.1 L538.9 379.7 L540.0 379.3 L541.0 378.9 L542.0 378.5 L542.9 378.2 L543.7 377.8 L544.5 377.6 L545.1 377.3 L545.8 377.1 L546.3 376.9 L546.8 376.7 L547.3 376.5 L547.7 376.4 L548.1 376.2 L548.4 376.1 L548.7 376.0 L549.0 375.9 L549.2 375.8 L549.4 375.7 L548.6 373.3 L548.3 373.4 L548.1 373.4 L547.8 373.5 L547.5 373.6 L547.2 373.7 L546.8 373.9 L546.4 374.0 L545.9 374.2 L545.4 374.4 L544.8 374.6 L544.2 374.8 L543.5 375.0 L542.8 375.3 L541.9 375.6 L541.0 375.9 L540.0 376.3 L539.0 376.6 L538.0 377.0 L536.9 377.4 L535.8 377.8 L534.7 378.2 L533.6 378.6 L532.5 379.0 L531.5 379.4 L530.5 379.8 L529.5 380.2 L528.5 380.6 L527.5 381.0 L526.5 381.4 L525.5 381.9 L524.5 382.3 L523.5 382.7 L522.5 383.1 L521.5 383.6 L520.4 384.0 L519.4 384.5 L518.3 384.9 L517.2 385.4 L516.1 385.9 L515.0 386.4 L513.9 386.9 L512.7 387.4 L511.6 387.9 L510.5 388.4 L509.4 388.9 L508.2 389.4 L507.1 390.0 L506.0 390.4 L504.9 390.9 L503.8 391.4 L502.8 391.9 L501.7 392.3 L500.7 392.8 L499.6 393.2 L498.5 393.7 L497.4 394.2 L496.3 394.7 L495.1 395.2 L493.8 395.7 L492.5 396.3 L491.1 396.9 L489.5 397.6 L487.8 398.4 L486.0 399.1 L484.2 399.9 L482.4 400.7 L480.7 401.5 L479.0 402.3 L477.5 402.9 L476.1 403.5 L475.0 404.1 L474.1 404.5Z" fill="#000"/>
<path d="M469.1 414.9 L469.4 414.8 L469.8 414.5 L470.1 414.3 L470.5 414.0 L470.9 413.8 L471.4 413.5 L471.8 413.2 L472.3 412.9 L472.9 412.5 L473.5 412.2 L474.2 411.9 L474.9 411.5 L475.6 411.2 L476.4 410.8 L477.3 410.4 L478.2 410.0 L479.2 409.6 L480.2 409.2 L481.2 408.8 L482.3 408.4 L483.5 407.9 L484.7 407.4 L486.0 406.9 L487.3 406.4 L488.7 405.8 L490.3 405.2 L491.9 404.6 L493.7 403.9 L495.4 403.3 L497.3 402.6 L499.1 402.0 L500.8 401.3 L502.6 400.7 L504.3 400.1 L505.8 399.6 L507.3 399.0 L508.6 398.6 L509.9 398.1 L511.1 397.7 L512.2 397.3 L513.3 396.9 L514.3 396.6 L515.3 396.2 L516.3 395.9 L517.4 395.6 L518.4 395.2 L519.4 394.9 L520.6 394.5 L521.7 394.1 L522.8 393.8 L524.0 393.5 L525.2 393.1 L526.4 392.8 L527.6 392.5 L528.8 392.1 L530.0 391.8 L531.2 391.4 L532.4 391.1 L533.5 390.7 L534.7 390.3 L535.8 389.8 L537.0 389.4 L538.2 388.8 L539.4 388.3 L540.6 387.8 L541.7 387.2 L542.8 386.7 L543.8 386.2 L544.8 385.8 L545.6 385.4 L546.3 385.1 L546.9 384.8 L545.1 381.2 L544.6 381.5 L543.8 381.8 L543.0 382.2 L542.1 382.7 L541.1 383.2 L540.0 383.7 L538.9 384.3 L537.8 384.8 L536.6 385.3 L535.5 385.8 L534.4 386.3 L533.3 386.7 L532.3 387.1 L531.2 387.5 L530.1 387.9 L528.9 388.2 L527.8 388.6 L526.6 388.9 L525.4 389.3 L524.2 389.6 L523.0 390.0 L521.8 390.4 L520.6 390.7 L519.4 391.1 L518.3 391.5 L517.3 391.8 L516.2 392.2 L515.2 392.5 L514.2 392.9 L513.1 393.2 L512.1 393.6 L511.0 394.0 L509.9 394.4 L508.7 394.8 L507.5 395.3 L506.1 395.8 L504.7 396.3 L503.1 396.9 L501.4 397.5 L499.7 398.1 L497.9 398.8 L496.1 399.4 L494.3 400.1 L492.5 400.7 L490.8 401.4 L489.1 402.0 L487.5 402.5 L486.1 403.0 L484.7 403.5 L483.4 403.9 L482.2 404.4 L481.0 404.8 L479.9 405.2 L478.8 405.6 L477.7 405.9 L476.7 406.3 L475.8 406.6 L474.9 407.0 L474.0 407.3 L473.1 407.7 L472.3 408.0 L471.6 408.4 L470.9 408.7 L470.2 409.1 L469.6 409.4 L469.1 409.7 L468.6 410.0 L468.1 410.3 L467.7 410.6 L467.4 410.8 L467.1 410.9 L466.9 411.1Z" fill="#000"/>
<path d="M519.5 394.3 L526.7 390.8 L536.7 386.2 L544 384.6 L547 387 L540.5 393.2 L528 398 L521.3 396Z" fill="#000" stroke="#000" stroke-width="0.8" stroke-linejoin="round"/>
<path d="M451.1 358.8 L451.7 359.2 L452.3 359.7 L453.1 360.3 L454.0 360.9 L455.0 361.5 L456.0 362.2 L457.0 363.0 L458.0 363.7 L459.0 364.5 L459.9 365.3 L460.7 366.0 L461.4 366.7 L462.1 367.4 L462.8 368.2 L463.5 369.0 L464.1 369.8 L464.7 370.6 L465.3 371.4 L465.9 372.2 L466.5 373.0 L467.0 373.9 L467.6 374.7 L468.1 375.5 L468.5 376.4 L469.0 377.3 L469.4 378.2 L469.8 379.1 L470.2 380.1 L470.6 381.0 L470.9 382.0 L471.3 383.0 L471.5 383.9 L471.8 384.9 L472.0 385.8 L472.2 386.7 L472.4 387.6 L472.5 388.4 L472.6 389.3 L472.6 390.1 L472.7 391.0 L472.6 391.9 L472.6 392.7 L472.6 393.6 L472.6 394.4 L472.5 395.3 L472.4 396.1 L472.4 396.9 L472.3 397.6 L472.2 398.3 L472.2 398.9 L472.1 399.4 L472.0 399.9 L471.9 400.4 L471.8 400.9 L471.6 401.3 L471.5 401.7 L471.3 402.2 L471.1 402.6 L470.9 403.1 L470.7 403.6 L470.5 404.1 L470.2 404.7 L469.9 405.2 L469.6 405.7 L469.2 406.2 L468.9 406.8 L468.5 407.3 L468.1 407.9 L467.7 408.4 L467.3 409.0 L466.9 409.5 L466.5 410.1 L466.0 410.7 L465.6 411.3 L465.1 411.9 L464.6 412.5 L464.1 413.1 L463.6 413.7 L463.1 414.3 L462.6 414.8 L462.1 415.4 L461.6 415.9 L461.1 416.3 L460.7 416.7 L460.3 417.1 L459.9 417.5 L459.5 417.9 L459.0 418.2 L458.6 418.5 L458.2 418.8 L457.7 419.1 L457.3 419.3 L456.9 419.6 L456.6 419.8 L456.2 420.0 L456.0 420.2 L457.0 422.4 L457.3 422.4 L457.6 422.3 L458.0 422.2 L458.4 422.1 L459.0 422.0 L459.5 421.8 L460.1 421.6 L460.7 421.4 L461.3 421.2 L462.0 420.9 L462.7 420.6 L463.3 420.3 L464.0 419.9 L464.6 419.4 L465.2 418.9 L465.9 418.4 L466.5 417.9 L467.2 417.4 L467.8 416.8 L468.5 416.2 L469.1 415.6 L469.8 415.1 L470.4 414.5 L470.9 413.9 L471.5 413.3 L472.0 412.7 L472.5 412.1 L473.0 411.5 L473.4 410.9 L473.9 410.3 L474.3 409.6 L474.8 409.0 L475.2 408.3 L475.6 407.7 L476.0 407.0 L476.3 406.4 L476.6 405.7 L476.9 405.1 L477.2 404.5 L477.4 403.9 L477.6 403.3 L477.8 402.6 L478.0 402.0 L478.2 401.3 L478.3 400.6 L478.5 399.9 L478.6 399.1 L478.7 398.4 L478.8 397.6 L478.9 396.7 L479.0 395.8 L479.1 394.9 L479.2 393.9 L479.2 392.9 L479.2 391.9 L479.2 390.8 L479.1 389.7 L479.0 388.6 L478.8 387.5 L478.6 386.4 L478.3 385.3 L478.1 384.3 L477.7 383.2 L477.4 382.1 L477.0 381.0 L476.6 379.9 L476.1 378.8 L475.6 377.7 L475.1 376.7 L474.6 375.6 L474.0 374.6 L473.5 373.6 L472.9 372.6 L472.3 371.7 L471.6 370.7 L470.9 369.8 L470.2 368.9 L469.5 368.0 L468.7 367.2 L467.9 366.4 L467.1 365.6 L466.3 364.8 L465.4 364.0 L464.6 363.3 L463.6 362.5 L462.5 361.8 L461.4 361.0 L460.3 360.3 L459.2 359.7 L458.0 359.0 L456.9 358.4 L455.9 357.8 L455.0 357.3 L454.1 356.9 L453.4 356.5 L452.9 356.2Z" fill="#000"/>
<path d="M530.7 329.0 C534.4 327.8 547.1 323.9 552.9 322.0 C558.7 320.1 562.4 319.5 565.7 317.9 C569.0 316.3 570.0 313.8 572.9 312.4 C575.8 311.0 579.3 310.2 582.9 309.7 C586.5 309.2 592.4 309.3 594.3 309.2C596.2 310.8 602.4 314.7 605.7 318.6 C609.0 322.6 612.5 328.2 614.3 332.9 C616.1 337.6 616.5 342.2 616.5 347.0 C616.5 351.8 615.6 357.8 614.3 361.4 C613.0 365.0 609.5 367.4 608.6 368.6C604.5 369.4 591.9 371.7 584.3 373.5 C576.7 375.3 569.1 377.3 562.9 379.3 C556.7 381.3 549.9 384.6 547.3 385.7C547.8 383.9 549.6 378.4 550.0 375.0 C550.4 371.6 550.5 368.8 549.7 365.0 C548.9 361.2 547.1 356.2 545.0 352.0 C542.9 347.8 539.7 343.8 537.3 340.0 C534.9 336.2 531.8 330.8 530.7 329.0Z" fill="url(#braid)" stroke="#000" stroke-width="3.5" stroke-linejoin="round"/>
<path d="M549.7 386.4 L549.9 385.9 L550.1 385.2 L550.3 384.5 L550.6 383.6 L550.9 382.7 L551.2 381.7 L551.5 380.6 L551.8 379.6 L552.1 378.5 L552.4 377.4 L552.6 376.3 L552.7 375.3 L552.9 374.4 L553.0 373.6 L553.1 372.7 L553.1 371.9 L553.2 371.0 L553.2 370.1 L553.2 369.2 L553.2 368.3 L553.1 367.4 L553.0 366.4 L552.8 365.4 L552.6 364.4 L552.4 363.3 L552.2 362.2 L551.9 361.1 L551.5 359.9 L551.1 358.8 L550.7 357.6 L550.3 356.4 L549.8 355.2 L549.3 354.1 L548.8 352.9 L548.3 351.8 L547.7 350.6 L547.1 349.5 L546.5 348.4 L545.8 347.3 L545.1 346.3 L544.4 345.2 L543.7 344.2 L543.0 343.2 L542.3 342.2 L541.7 341.2 L541.0 340.3 L540.4 339.4 L539.8 338.4 L539.2 337.5 L538.5 336.5 L537.9 335.4 L537.2 334.4 L536.5 333.4 L535.8 332.4 L535.1 331.4 L534.5 330.6 L533.9 329.7 L533.4 329.0 L533.0 328.4 L532.6 327.8 L528.8 330.2 L529.0 330.7 L529.4 331.4 L529.8 332.2 L530.2 333.1 L530.7 334.1 L531.3 335.1 L531.8 336.2 L532.4 337.3 L532.9 338.4 L533.6 339.5 L534.2 340.5 L534.8 341.6 L535.5 342.6 L536.1 343.6 L536.8 344.6 L537.5 345.6 L538.1 346.6 L538.8 347.6 L539.5 348.5 L540.1 349.5 L540.7 350.5 L541.3 351.4 L541.8 352.4 L542.3 353.4 L542.8 354.3 L543.2 355.4 L543.7 356.4 L544.1 357.5 L544.5 358.6 L544.9 359.7 L545.3 360.7 L545.6 361.8 L545.9 362.8 L546.3 363.8 L546.5 364.7 L546.8 365.6 L547.0 366.5 L547.1 367.3 L547.2 368.0 L547.3 368.8 L547.4 369.5 L547.4 370.2 L547.4 370.9 L547.4 371.6 L547.4 372.3 L547.4 373.1 L547.3 373.9 L547.3 374.7 L547.2 375.5 L547.0 376.3 L546.8 377.3 L546.6 378.3 L546.4 379.3 L546.1 380.3 L545.9 381.2 L545.6 382.2 L545.4 383.0 L545.2 383.8 L545.0 384.5 L544.9 385.0Z" fill="#000"/>
<path d="M594.3 309.2 C596.2 310.8 602.4 314.7 605.7 318.6 C609.0 322.6 612.5 328.2 614.3 332.9 C616.1 337.6 616.5 342.2 616.5 347.0 C616.5 351.8 615.6 357.8 614.3 361.4 C613.0 365.0 609.5 367.4 608.6 368.6" fill="none" stroke="#000" stroke-width="4.5"/>
<path d="M566.5 317.5 L573 311.8 L582.9 309 L594 308.8 L600.5 313.2 L597 316.3 L588 315.3 L580 317 L572 320.2Z" fill="#000"/>
<path d="M573.9 314.9 C577.5 312 583 310.7 587.3 310.6 L587.4 311.9 C583 312.6 578 313.9 574.3 315.7Z" fill="#fff"/>
<path d="M547.5 384.3 C550.1 383.3 556.8 380.4 562.9 378.5 C569.0 376.6 576.6 374.5 584.3 372.6 C592.0 370.7 604.9 368.2 609.0 367.3" fill="none" stroke="#000" stroke-width="5"/>
<path d="M586 373 L596 370.6 L606.6 367.4 C605 371.5 600.5 375 595 375.6 C591 376 588 375 586 373Z" fill="#fff" stroke="#000" stroke-width="1.5" stroke-linejoin="round"/>
</g>
<g id="leaders" fill="#111" stroke="none">
<rect x="336.3" y="160.35" width="143.7" height="2.5"/>
<rect x="336.25" y="161.3" width="2.1" height="205.2"/>
<rect x="356.3" y="191.05" width="143.7" height="2.5"/>
<rect x="356.25" y="192.0" width="2.1" height="153.2"/>
<rect x="375.5" y="220.35" width="144.0" height="2.5"/>
<rect x="375.45" y="221.3" width="2.1" height="122.9"/>
<rect x="551.95" y="269.7" width="2.1" height="54.5"/>
<rect x="670.45" y="324.4" width="2.1" height="39.2"/>
<rect x="670.5" y="361.45" width="129.1" height="2.5"/>
<rect x="507.45" y="373.5" width="2.1" height="29.5"/>
<rect x="507.5" y="400.85" width="180.5" height="2.5"/>
<rect x="455.15" y="408.0" width="2.1" height="26.7"/>
<rect x="455.2" y="432.55" width="204.4" height="2.5"/>
<rect x="433.65" y="429.8" width="2.1" height="37.4"/>
<rect x="433.7" y="465.05" width="204.3" height="2.5"/>
<rect x="416.05" y="449.4" width="2.1" height="52.3"/>
<rect x="416.1" y="499.55" width="203.9" height="2.5"/>
<rect x="381.95" y="462.5" width="2.1" height="69.4"/>
<rect x="382.0" y="529.75" width="204.7" height="2.5"/>

</g>
<g id="labels">
<text x="490.3" y="167.5" textLength="115.2" lengthAdjust="spacingAndGlyphs">Insulation</text>
<text x="508.0" y="199.2" textLength="153.3" lengthAdjust="spacingAndGlyphs">Ground drain</text>
<text x="526.3" y="228.7" textLength="138.3" lengthAdjust="spacingAndGlyphs">Cotton rope</text>
<text x="446.6" y="262.5" textLength="134.7" lengthAdjust="spacingAndGlyphs">Braid shield</text>
<text x="811.8" y="369.6" textLength="46.2" lengthAdjust="spacingAndGlyphs">PVC</text>
<text x="696.6" y="410.2" textLength="193.9" lengthAdjust="spacingAndGlyphs">Aluminum shield</text>
<text x="666.6" y="440.4" textLength="188.5" lengthAdjust="spacingAndGlyphs">Transparent film</text>
<text x="646.0" y="474.6" textLength="194.3" lengthAdjust="spacingAndGlyphs">Aluminum shield</text>
<text x="629.1" y="505.0" textLength="152.9" lengthAdjust="spacingAndGlyphs">Ground drain</text>
<text x="598.8" y="535.8" textLength="122.5" lengthAdjust="spacingAndGlyphs">Conductor</text>
</g>
</svg>
</body></html>
